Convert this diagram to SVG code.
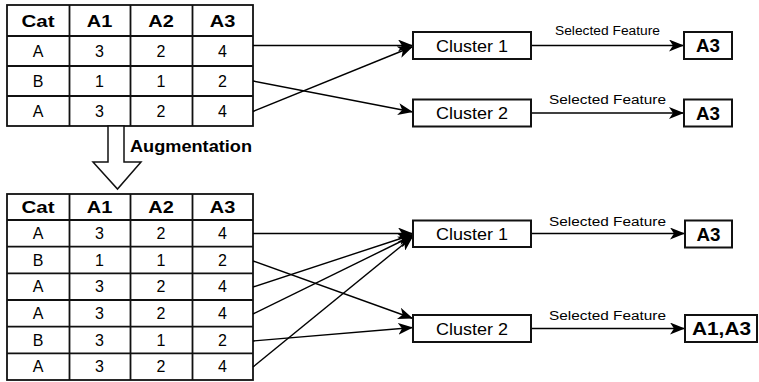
<svg xmlns="http://www.w3.org/2000/svg" width="759" height="382" viewBox="0 0 759 382">
<style>
.grid{fill:none;stroke:#111;stroke-width:1.8}
.box{fill:#fff;stroke:#111;stroke-width:2}
.conn{fill:none;stroke:#000;stroke-width:1.4}
.h{font-family:"Liberation Sans",Arial,sans-serif;font-weight:bold;font-size:16.5px;text-anchor:middle;fill:#000}
.d{font-family:"Liberation Sans",Arial,sans-serif;font-size:16px;text-anchor:middle;fill:#000}
.c{font-family:"Liberation Sans",Arial,sans-serif;font-size:17px;text-anchor:middle;fill:#000}
.f{font-family:"Liberation Sans",Arial,sans-serif;font-weight:bold;font-size:17.5px;text-anchor:middle;fill:#000}
.s{font-family:"Liberation Sans",Arial,sans-serif;font-size:12.5px;text-anchor:middle;fill:#000}
</style>
<defs>
<marker id="arr" markerUnits="userSpaceOnUse" markerWidth="16" markerHeight="12" refX="15" refY="6" orient="auto">
<path d="M0,0 L15,6 L0,12 L4,6 Z" fill="#000"/>
</marker>
</defs>
<rect width="759" height="382" fill="#fff"/>

<g id="table-original">
<rect class="grid" x="7" y="5" width="246" height="121"/>
<path class="grid" d="M69.5,5V126M130.5,5V126M192.5,5V126M7,36H253M7,66H253M7,96H253"/>
<text class="h" x="38" y="26.5" textLength="33" lengthAdjust="spacingAndGlyphs">Cat</text>
<text class="h" x="99.5" y="26.5" textLength="25.5" lengthAdjust="spacingAndGlyphs">A1</text>
<text class="h" x="161" y="26.5" textLength="25.5" lengthAdjust="spacingAndGlyphs">A2</text>
<text class="h" x="222.5" y="26.5" textLength="25.5" lengthAdjust="spacingAndGlyphs">A3</text>
<text class="d" x="38" y="56.5">A</text><text class="d" x="99.5" y="56.5">3</text><text class="d" x="161" y="56.5">2</text><text class="d" x="222.5" y="56.5">4</text>
<text class="d" x="38" y="86.5">B</text><text class="d" x="99.5" y="86.5">1</text><text class="d" x="161" y="86.5">1</text><text class="d" x="222.5" y="86.5">2</text>
<text class="d" x="38" y="116.5">A</text><text class="d" x="99.5" y="116.5">3</text><text class="d" x="161" y="116.5">2</text><text class="d" x="222.5" y="116.5">4</text>
</g>

<g id="augmentation-arrow">
<polygon points="108,126 124,126 124,162 141,162 117.5,189 93,162 108,162" fill="#fff" stroke="#111" stroke-width="1.5"/>
<text x="130" y="151.5" font-family="'Liberation Sans',Arial,sans-serif" font-weight="bold" font-size="17" textLength="122" lengthAdjust="spacingAndGlyphs">Augmentation</text>
</g>

<g id="table-augmented">
<rect class="grid" x="7" y="194" width="246" height="186"/>
<path class="grid" d="M69.5,194V380M130.5,194V380M192.5,194V380M7,220H253M7,246.7H253M7,273.3H253M7,300H253M7,326.7H253M7,353.3H253"/>
<text class="h" x="38" y="213" textLength="33" lengthAdjust="spacingAndGlyphs">Cat</text>
<text class="h" x="99.5" y="213" textLength="25.5" lengthAdjust="spacingAndGlyphs">A1</text>
<text class="h" x="161" y="213" textLength="25.5" lengthAdjust="spacingAndGlyphs">A2</text>
<text class="h" x="222.5" y="213" textLength="25.5" lengthAdjust="spacingAndGlyphs">A3</text>
<text class="d" x="38" y="238.8">A</text><text class="d" x="99.5" y="238.8">3</text><text class="d" x="161" y="238.8">2</text><text class="d" x="222.5" y="238.8">4</text>
<text class="d" x="38" y="265.5">B</text><text class="d" x="99.5" y="265.5">1</text><text class="d" x="161" y="265.5">1</text><text class="d" x="222.5" y="265.5">2</text>
<text class="d" x="38" y="292.2">A</text><text class="d" x="99.5" y="292.2">3</text><text class="d" x="161" y="292.2">2</text><text class="d" x="222.5" y="292.2">4</text>
<text class="d" x="38" y="318.8">A</text><text class="d" x="99.5" y="318.8">3</text><text class="d" x="161" y="318.8">2</text><text class="d" x="222.5" y="318.8">4</text>
<text class="d" x="38" y="345.5">B</text><text class="d" x="99.5" y="345.5">3</text><text class="d" x="161" y="345.5">1</text><text class="d" x="222.5" y="345.5">2</text>
<text class="d" x="38" y="372.2">A</text><text class="d" x="99.5" y="372.2">3</text><text class="d" x="161" y="372.2">2</text><text class="d" x="222.5" y="372.2">4</text>
</g>

<g id="connectors">
<line class="conn" x1="253" y1="45.5" x2="413" y2="45.5" marker-end="url(#arr)"/>
<line class="conn" x1="253" y1="81" x2="413" y2="112" marker-end="url(#arr)"/>
<line class="conn" x1="253" y1="111.5" x2="413" y2="46.5" marker-end="url(#arr)"/>
<line class="conn" x1="531" y1="45.5" x2="684" y2="45.5" marker-end="url(#arr)"/>
<line class="conn" x1="531" y1="113" x2="684" y2="113" marker-end="url(#arr)"/>
<line class="conn" x1="253" y1="233.5" x2="413" y2="233.5" marker-end="url(#arr)"/>
<line class="conn" x1="253" y1="261" x2="413" y2="318.5" marker-end="url(#arr)"/>
<line class="conn" x1="253" y1="287" x2="413" y2="234.5" marker-end="url(#arr)"/>
<line class="conn" x1="253" y1="314" x2="413" y2="235.5" marker-end="url(#arr)"/>
<line class="conn" x1="253" y1="341" x2="413" y2="327.5" marker-end="url(#arr)"/>
<line class="conn" x1="253" y1="367" x2="413" y2="236.5" marker-end="url(#arr)"/>
<line class="conn" x1="531" y1="233.5" x2="685" y2="233.5" marker-end="url(#arr)"/>
<line class="conn" x1="531" y1="328.5" x2="685" y2="328.5" marker-end="url(#arr)"/>
<text class="s" x="607.5" y="35" font-size="11.5" textLength="105" lengthAdjust="spacingAndGlyphs">Selected Feature</text>
<text class="s" x="607.5" y="103.5" textLength="117" lengthAdjust="spacingAndGlyphs">Selected Feature</text>
<text class="s" x="607.5" y="226" textLength="117" lengthAdjust="spacingAndGlyphs">Selected Feature</text>
<text class="s" x="607.5" y="319.5" textLength="117" lengthAdjust="spacingAndGlyphs">Selected Feature</text>
</g>

<g id="cluster1-original">
<rect class="box" x="413" y="32" width="118" height="27"/>
<text class="c" x="472" y="51.5" textLength="72" lengthAdjust="spacingAndGlyphs">Cluster 1</text>
</g>
<g id="cluster2-original">
<rect class="box" x="413" y="99.5" width="118" height="27"/>
<text class="c" x="472" y="119" textLength="72" lengthAdjust="spacingAndGlyphs">Cluster 2</text>
</g>
<g id="feature1-original">
<rect class="box" x="684" y="32" width="48" height="27"/>
<text class="f" x="708" y="52" textLength="24" lengthAdjust="spacingAndGlyphs">A3</text>
</g>
<g id="feature2-original">
<rect class="box" x="684" y="99.5" width="48" height="27"/>
<text class="f" x="708" y="119.5" textLength="24" lengthAdjust="spacingAndGlyphs">A3</text>
</g>

<g id="cluster1-augmented">
<rect class="box" x="413" y="220.5" width="118" height="26.5"/>
<text class="c" x="472" y="240" textLength="72" lengthAdjust="spacingAndGlyphs">Cluster 1</text>
</g>
<g id="cluster2-augmented">
<rect class="box" x="413" y="315" width="118" height="27"/>
<text class="c" x="472" y="334.5" textLength="72" lengthAdjust="spacingAndGlyphs">Cluster 2</text>
</g>
<g id="feature1-augmented">
<rect class="box" x="685" y="220.5" width="47" height="27"/>
<text class="f" x="708.5" y="240.5" textLength="24" lengthAdjust="spacingAndGlyphs">A3</text>
</g>
<g id="feature2-augmented">
<rect class="box" x="685" y="315" width="72" height="27"/>
<text class="f" x="721.5" y="335" textLength="59" lengthAdjust="spacingAndGlyphs">A1,A3</text>
</g>
</svg>
